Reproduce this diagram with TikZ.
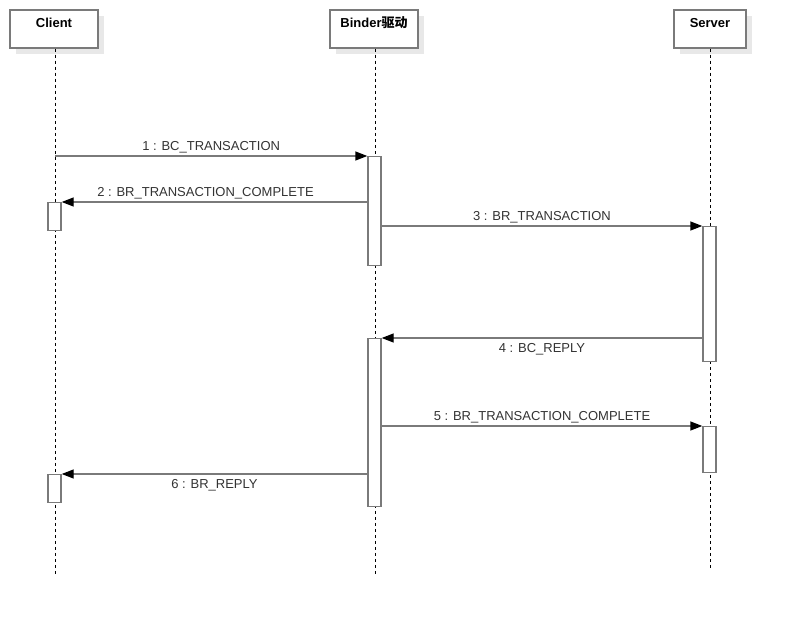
\documentclass[tikz,border=0pt]{standalone}
\usepackage{fontspec}
\setmainfont{Liberation Sans}
\newfontfamily\cjk{Noto Sans CJK SC}
\usetikzlibrary{arrows.meta, shadows}

\definecolor{linegray}{HTML}{7A7A7A}
\definecolor{textgray}{HTML}{333333}

\tikzset{
  actor/.style = {draw = linegray, line width = 1.5pt, fill = white, rectangle,
    minimum width = 88, minimum height = 38, inner sep = 0,
    text height = 9.5pt, text depth = 13pt, font = \fontsize{13}{15}\selectfont\bfseries,
    text = black,
    drop shadow = {shadow xshift = 6pt, shadow yshift = -6pt, fill = black!9, opacity = 1}},
  lifeline/.style = {black, dash pattern = on 3pt off 3pt, line width = 0.8pt},
  bar/.style = {draw = linegray, line width = 1.4pt, fill = white, rectangle,
    minimum width = 13, inner sep = 0, anchor = north},
  msg/.style = {linegray, line width = 1.4pt, -{Triangle[length = 12pt, width = 9pt, black]}},
  msglabel/.style = {text = textgray, font = \fontsize{13}{15}\selectfont, inner sep = 2pt}
}

\begin{document}
\begin{tikzpicture}[x = 1pt, y = -1pt]
    \useasboundingbox (0, 0) rectangle (785, 618);

    \node [actor, minimum width = 88] (client) at (54, 29) {Client};
    \node [actor, minimum width = 88] (binder) at (374, 29) {Binder{\cjk 驱动}};
    \node [actor, minimum width = 72] (server) at (710, 29) {Server};

    \coordinate (client end) at (55, 575);
    \coordinate (binder end) at (375, 575);
    \coordinate (server end) at (710, 570);

    \draw [lifeline] (client.south -| client end) -- (client end);
    \draw [lifeline] (binder.south -| binder end) -- (binder end);
    \draw [lifeline] (server.south -| server end) -- (server end);

    \node [bar, minimum height = 109] (b1) at (374.5, 156) {};
    \node [bar, minimum height = 28] (c1) at (54.5, 202) {};
    \node [bar, minimum height = 135] (s1) at (709.5, 226) {};
    \node [bar, minimum height = 168] (b2) at (374.5, 338) {};
    \node [bar, minimum height = 46] (s2) at (709.5, 426) {};
    \node [bar, minimum height = 28] (c2) at (54.5, 474) {};

    \draw [msg] (client end |- b1.north west) -- (b1.north west)
      node [msglabel, midway, above] {1 : BC\_TRANSACTION};
    \draw [msg] (b1.west |- c1.north east) -- (c1.north east)
      node [msglabel, midway, above, xshift = -9pt] {2 : BR\_TRANSACTION\_COMPLETE};
    \draw [msg] (b1.east |- s1.north west) -- (s1.north west)
      node [msglabel, midway, above] {3 : BR\_TRANSACTION};
    \draw [msg] (s1.west |- b2.north east) -- (b2.north east)
      node [msglabel, midway, below, yshift = -3pt] {4 : BC\_REPLY};
    \draw [msg] (b2.east |- s2.north west) -- (s2.north west)
      node [msglabel, midway, above] {5 : BR\_TRANSACTION\_COMPLETE};
    \draw [msg] (b2.west |- c2.north east) -- (c2.north east)
      node [msglabel, midway, below, yshift = -3pt] {6 : BR\_REPLY};
\end{tikzpicture}
\end{document}
